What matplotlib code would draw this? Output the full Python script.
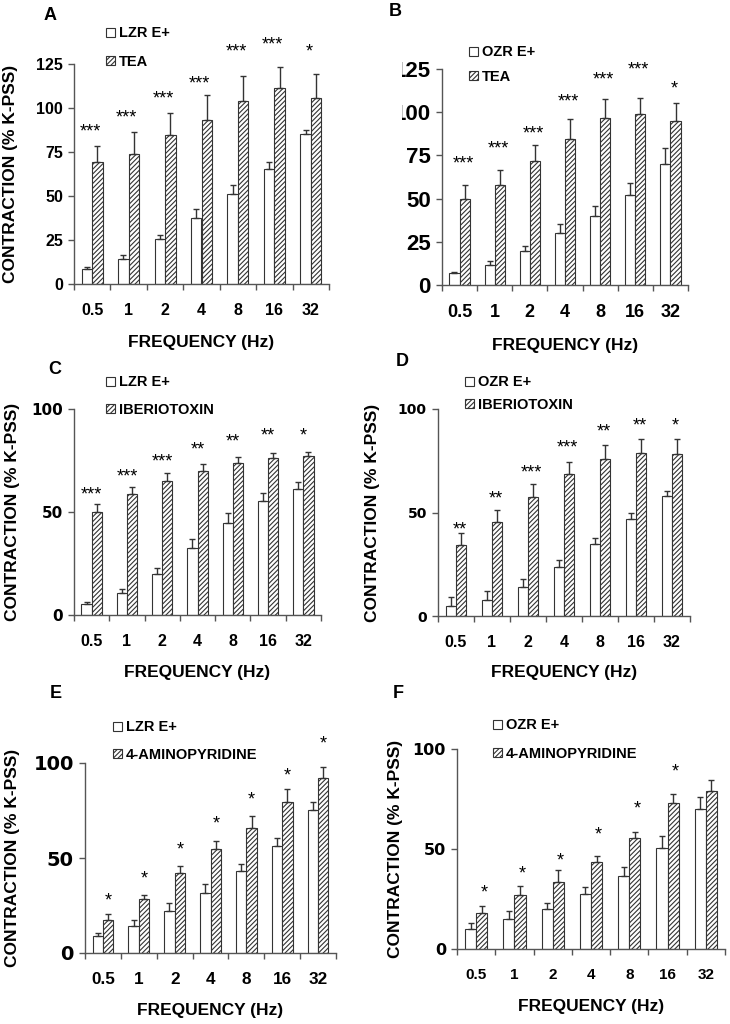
import matplotlib
matplotlib.use('Agg')
import matplotlib.pyplot as plt
import numpy as np
from matplotlib.patches import Patch, Rectangle

plt.rcParams['font.family'] = ['Liberation Sans', 'DejaVu Sans']
plt.rcParams['hatch.color'] = '#333333'
plt.rcParams['hatch.linewidth'] = 0.8

freq_labels = ['0.5', '1', '2', '4', '8', '16', '32']

# A: lean rats, TEA
a_ctrl = [8.3, 14.0, 25.4, 37.4, 51.4, 65.3, 85.0]
a_ctrl_sem = [1.4, 2.5, 2.7, 5.1, 5.0, 4.3, 2.5]
a_drug = [69.6, 73.8, 84.4, 93.2, 104.0, 111.2, 105.9]
a_drug_sem = [8.6, 12.3, 12.8, 14.0, 14.0, 11.9, 13.3]
a_sig = ['***', '***', '***', '***', '***', '***', '*']
a_sig_y = [89.6, 97.2, 108, 117, 134.8, 139, 134.8]

# B: obese rats, TEA
b_ctrl = [6.8, 11.6, 19.5, 30.3, 40.2, 52.3, 69.9]
b_ctrl_sem = [0.5, 2.1, 3.3, 5.2, 5.7, 7.0, 9.4]
b_drug = [49.6, 58.1, 71.6, 84.6, 96.9, 98.8, 94.8]
b_drug_sem = [8.5, 8.3, 9.7, 11.5, 10.8, 9.7, 10.4]
b_sig = ['***', '***', '***', '***', '***', '***', '*']
b_sig_y = [73, 81.7, 90.7, 109, 121.6, 127.4, 116.4]

# C: lean rats, iberiotoxin
c_ctrl = [5.2, 10.7, 19.9, 32.4, 44.9, 55.1, 61.1]
c_ctrl_sem = [1.3, 1.8, 2.8, 4.4, 4.4, 3.9, 3.4]
c_drug = [50.2, 58.5, 65.0, 69.9, 73.6, 76.3, 77.3]
c_drug_sem = [3.8, 3.6, 3.7, 3.2, 3.2, 2.1, 1.8]
c_sig = ['***', '***', '***', '**', '**', '**', '*']
c_sig_y = [61.1, 69.7, 76.7, 82.7, 86.7, 89.5, 89.5]

# D: obese rats, iberiotoxin
d_ctrl = [5.0, 7.7, 14.1, 23.8, 34.6, 46.9, 58.0]
d_ctrl_sem = [4.3, 4.4, 3.9, 3.2, 3.2, 2.8, 2.3]
d_drug = [34.1, 45.3, 57.7, 68.5, 75.9, 78.8, 78.1]
d_drug_sem = [5.8, 6.0, 6.0, 5.9, 6.6, 6.7, 7.4]
d_sig = ['**', '**', '***', '***', '**', '**', '*']
d_sig_y = [44.2, 59.2, 71.5, 83.9, 91.6, 94.4, 94.4]

# E: lean rats, 4-aminopyridine
e_ctrl = [8.8, 14.1, 22.1, 31.6, 42.9, 56.2, 75.2]
e_ctrl_sem = [1.7, 3.5, 4.1, 4.6, 4.0, 4.3, 4.1]
e_drug = [17.4, 28.6, 42.2, 54.7, 65.7, 79.3, 92.1]
e_drug_sem = [3.2, 1.8, 3.5, 4.2, 6.4, 7.0, 6.0]
e_sig = ['*', '*', '*', '*', '*', '*', '*']
e_sig_y = [30.2, 42.0, 56.9, 70.5, 83.5, 96.1, 112.7]

# F: obese rats, 4-aminopyridine
f_ctrl = [9.8, 14.8, 19.8, 27.3, 36.3, 50.7, 70.0]
f_ctrl_sem = [3.4, 4.0, 3.4, 3.9, 4.5, 6.0, 6.2]
f_drug = [17.8, 26.8, 33.3, 43.3, 55.7, 73.0, 79.0]
f_drug_sem = [3.9, 4.5, 6.2, 3.0, 2.8, 4.5, 5.7]
f_sig = ['*', '*', '*', '*', '*', '*', '']
f_sig_y = [30.7, 40.0, 46.5, 59.5, 72.8, 91.2, 0]

W, H = 730, 1024
EDGE = '#333333'
AXC = '#555555'
HATCH = '///////'
STAR_FS = 13
fig = plt.figure(figsize=(W / 100, H / 100), dpi=100)


def px_axes(left, right, top, bottom):
    return fig.add_axes([left / W, 1 - bottom / H, (right - left) / W, (bottom - top) / H])


def draw_panel(ax, ctrl, ctrl_sem, drug, drug_sem, sig, sig_y, ymax, ystep, star_dx,
               xfs=11.5, yfs=11.5, yfam='Liberation Sans'):
    x = np.arange(len(freq_labels))
    w = 0.29
    zeros = np.zeros(len(x))
    ax.bar(x - w / 2, ctrl, w, color='white', edgecolor=EDGE, linewidth=0.8, zorder=2)
    ax.bar(x + w / 2, drug, w, color='white', edgecolor=EDGE, hatch=HATCH, linewidth=0.8, zorder=2)
    ax.errorbar(x - w / 2, ctrl, yerr=[zeros, ctrl_sem], fmt='none', ecolor=EDGE,
                elinewidth=1, capsize=2.5, capthick=1, zorder=3)
    ax.errorbar(x + w / 2, drug, yerr=[zeros, drug_sem], fmt='none', ecolor=EDGE,
                elinewidth=1, capsize=2.5, capthick=1, zorder=3)
    for xi, s, yv in zip(x, sig, sig_y):
        if s:
            ax.annotate(s, (xi + star_dx, yv), xytext=(0, -0.55 * STAR_FS), textcoords='offset points',
                        ha='center', va='baseline', fontsize=STAR_FS, annotation_clip=False)

    ax.set_xlim(-0.5, len(x) - 0.5)
    ax.set_ylim(0, ymax)
    ax.set_yticks(np.arange(0, ymax + 1, ystep))
    ax.set_xticks(np.arange(-0.5, len(x), 1), labels=[])
    ax.set_xticks(x, labels=freq_labels, minor=True)
    ax.tick_params(axis='x', which='major', length=4, width=1, color=AXC)
    ax.tick_params(axis='x', which='minor', length=0, pad=14, labelsize=xfs)
    ax.tick_params(axis='y', length=4, width=1, color=AXC, pad=4, labelsize=yfs)
    for lab in ax.get_xticklabels(minor=True):
        lab.set_fontweight('bold')
    for lab in ax.get_yticklabels():
        lab.set_fontweight('bold')
        lab.set_family([yfam, 'DejaVu Sans'])
    for side in ['top', 'right']:
        ax.spines[side].set_visible(False)
    for side in ['left', 'bottom']:
        ax.spines[side].set_color(AXC)
        ax.spines[side].set_linewidth(1)


def add_legend(ax, names, left, row1, row2):
    handles = [Patch(facecolor='white', edgecolor=EDGE, linewidth=0.8, label=names[0]),
               Patch(facecolor='white', edgecolor=EDGE, linewidth=0.8, hatch=HATCH, label=names[1])]
    fs = 10.5
    fs_px = fs * 100 / 72
    spacing = (row2 - row1 - fs_px) / fs_px
    ax.legend(handles=handles, loc='center left',
              bbox_to_anchor=(left / W, 1 - (row1 + row2) / 2 / H), bbox_transform=fig.transFigure,
              frameon=False, prop={'weight': 'bold', 'size': fs},
              handlelength=0.6, handleheight=0.6, handletextpad=0.3,
              labelspacing=spacing, borderpad=0, borderaxespad=0)


ax_a = px_axes(74, 329, 64, 284)
draw_panel(ax_a, a_ctrl, a_ctrl_sem, a_drug, a_drug_sem, a_sig, a_sig_y, 125, 25, -0.05)
add_legend(ax_a, ['LZR E+', 'TEA'], 106, 33, 62)

ax_b = px_axes(442, 688, 69, 285)
draw_panel(ax_b, b_ctrl, b_ctrl_sem, b_drug, b_drug_sem, b_sig, b_sig_y, 125, 25, 0.1,
           xfs=13, yfs=16, yfam='Liberation Sans')
add_legend(ax_b, ['OZR E+', 'TEA'], 469, 52, 77)

ax_c = px_axes(74, 321, 409, 615)
draw_panel(ax_c, c_ctrl, c_ctrl_sem, c_drug, c_drug_sem, c_sig, c_sig_y, 100, 50, 0.0,
           yfs=11, yfam='DejaVu Sans')
add_legend(ax_c, ['LZR E+', 'IBERIOTOXIN'], 106, 382, 410)

ax_d = px_axes(438, 690, 409, 616)
draw_panel(ax_d, d_ctrl, d_ctrl_sem, d_drug, d_drug_sem, d_sig, d_sig_y, 100, 50, 0.1,
           yfs=10, yfam='DejaVu Sans')
add_legend(ax_d, ['OZR E+', 'IBERIOTOXIN'], 465, 382, 405)

ax_e = px_axes(85, 336, 763, 953)
draw_panel(ax_e, e_ctrl, e_ctrl_sem, e_drug, e_drug_sem, e_sig, e_sig_y, 100, 50, 0.15,
           xfs=12.3, yfs=14, yfam='DejaVu Sans')
add_legend(ax_e, ['LZR E+', '4-AMINOPYRIDINE'], 113, 727, 755)

ax_f = px_axes(457, 725, 749, 949)
draw_panel(ax_f, f_ctrl, f_ctrl_sem, f_drug, f_drug_sem, f_sig, f_sig_y, 100, 50, 0.2,
           xfs=11, yfs=11.5, yfam='DejaVu Sans')
add_legend(ax_f, ['OZR E+', '4-AMINOPYRIDINE'], 493, 725, 754)

# axis titles (panel B has its y label cropped away in the original)
label_pos = [(ax_a, -0.25, -0.264), (ax_b, None, -0.278), (ax_c, -0.25, -0.28),
             (ax_d, -0.26, -0.275), (ax_e, -0.287, -0.30), (ax_f, -0.23, -0.29)]
for ax, ylx, xly in label_pos:
    ax.set_xlabel('FREQUENCY (Hz)', fontsize=12.5, fontweight='bold', va='center')
    ax.xaxis.set_label_coords(0.5, xly)
    if ylx is not None:
        ax.set_ylabel('CONTRACTION (% K-PSS)', fontsize=12.5, fontweight='bold', va='center')
        ax.yaxis.set_label_coords(ylx, 0.5)

# the left edge of panel B is cropped in the source figure, hiding part of its tick labels
fig.patches.append(Rectangle((365 / W, 1 - 290 / H), 37 / W, 240 / H, transform=fig.transFigure,
                             facecolor='white', edgecolor='none', zorder=10))

for letter, px, py in [('A', 50, 15), ('B', 395, 12), ('C', 55, 370),
                       ('D', 402, 362), ('E', 56, 693), ('F', 398, 693)]:
    fig.text(px / W, 1 - py / H, letter, ha='center', va='center', fontsize=13, fontweight='bold')

fig.savefig('out.png', dpi=100, facecolor='white')
